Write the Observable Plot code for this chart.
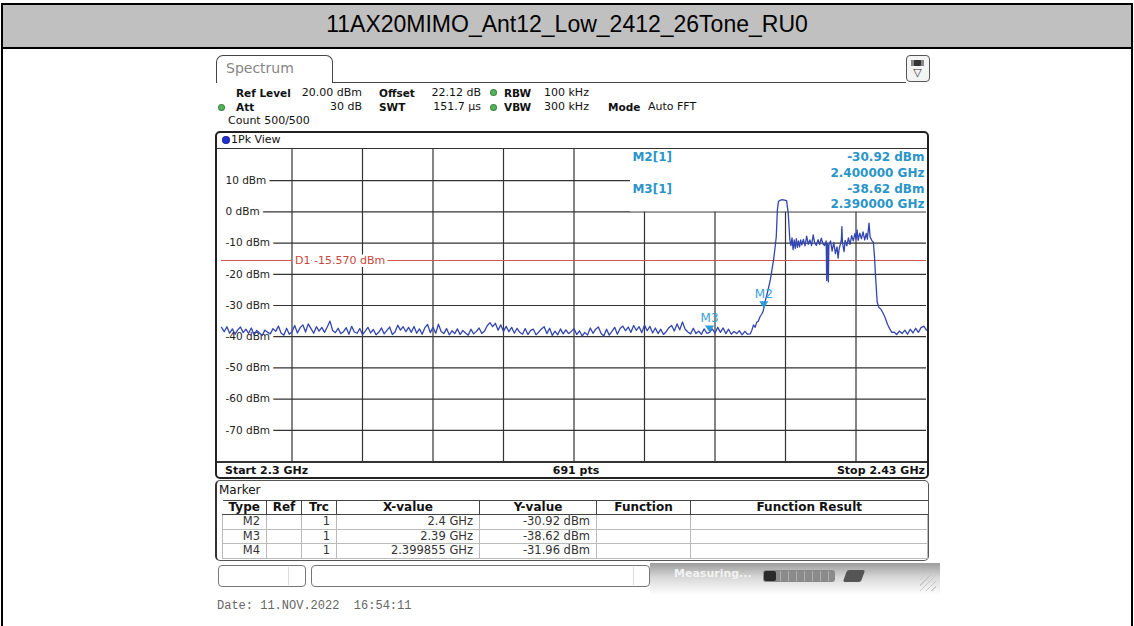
<!DOCTYPE html>
<html><head><meta charset="utf-8">
<script src="https://cdn.jsdelivr.net/npm/d3@7"></script>
<script src="https://cdn.jsdelivr.net/npm/@observablehq/plot@0.6"></script>
<style>
html,body{margin:0;padding:0;background:#fff;}
#page{position:relative;width:1134px;height:626px;overflow:hidden;font-family:"DejaVu Sans",sans-serif;color:#111;}
.box{position:absolute;box-sizing:border-box;}
.t{position:absolute;white-space:pre;height:16px;line-height:16px;font-size:11px;}
#mk{position:absolute;left:222px;top:500px;border-collapse:collapse;font-family:"DejaVu Sans",sans-serif;font-size:11.5px;color:#333;table-layout:fixed;}
#mk th{font-weight:bold;color:#111;height:13px;line-height:13px;padding:0 3px;border-left:1.5px solid #444;border-top:1.5px solid #444;border-bottom:1.5px solid #444;text-align:center;font-size:12px;}
#mk th:first-child{border-left:none;}
#mk td{height:13.5px;line-height:13.5px;padding:0 6px;border:1px solid #bbb;text-align:right;}
</style></head>
<body><div id="page"></div>
<script>
// ---------- data ----------
const titleText = "11AX20MIMO_Ant12_Low_2412_26Tone_RU0";
const startMHz = 2300, stopMHz = 2430, sweepPoints = 691;
const refLevelDbm = 20, bottomDbm = -80;
const gridFreqMHz = [2313, 2326, 2339, 2352, 2365, 2378, 2391, 2404, 2417];
const levelTicksDbm = [10, 0, -10, -20, -30, -40, -50, -60, -70];
const d1LineDbm = -15.57;

// noise floor left of the signal, 0.5 MHz sweep grid from 2300 MHz
const noiseLeftStartMHz = 2300, noiseStepMHz = 0.5;
const noiseLeftDbm = [
 -37.0,-38.4,-36.8,-38.9,-37.5,-39.2,-37.8,-36.9,-38.7,-37.6,
 -38.9,-37.2,-39.4,-38.0,-38.8,-39.6,-37.9,-38.6,-39.1,-37.4,
 -38.3,-36.6,-38.9,-39.5,-37.3,-39.2,-38.4,-36.4,-38.8,-37.1,
 -36.2,-38.5,-35.9,-37.4,-38.9,-36.8,-38.2,-37.0,-38.6,-36.9,
 -35.0,-38.0,-38.7,-37.3,-39.0,-38.4,-37.1,-39.2,-36.7,-38.5,
 -38.9,-37.4,-39.3,-38.2,-37.0,-38.8,-37.7,-39.4,-38.6,-37.2,
 -39.1,-38.0,-36.9,-39.3,-38.5,-36.3,-37.9,-36.8,-38.4,-37.0,
 -38.6,-36.7,-38.9,-37.5,-39.2,-37.1,-36.1,-38.7,-37.0,-38.9,
 -36.0,-38.3,-39.0,-37.4,-39.4,-38.1,-39.0,-37.5,-39.3,-38.0,
 -38.8,-39.5,-37.6,-39.1,-38.3,-37.2,-39.0,-38.2,-36.5,-35.5,
 -36.8,-35.7,-37.9,-36.2,-38.3,-36.7,-38.4,-37.0,-38.9,-37.3,
 -38.6,-39.2,-37.4,-39.3,-38.0,-37.6,-39.4,-38.5,-37.5,-36.8,
 -39.0,-37.3,-39.6,-38.2,-39.4,-37.5,-39.1,-37.8,-39.0,-38.3,
 -37.4,-39.3,-38.1,-39.8,-38.6,-39.5,-37.2,-38.9,-37.6,-36.9,
 -39.0,-39.8,-37.6,-39.5,-38.3,-37.0,-39.2,-37.4,-36.6,-38.1,
 -36.9,-38.6,-36.4,-38.0,-36.8,-38.7,-36.3,-38.1,-36.7,-38.8,
 -37.2,-39.0,-37.6,-39.3,-38.4,-37.1,-36.4,-38.2,-35.9,-37.8,
 -35.3,-37.6,-38.5,-39.1,-37.3,-39.0,-38.2,-39.2,-37.5,-38.9,
 -38.62,-37.5,-38.9,-37.0,-38.6,-37.2,-39.0,-37.6,-39.2,-38.3,
 -39.0,-38.1,-39.4,-38.3,-39.2
];
// signal region (rise, 26-tone RU peak, unallocated plateau, fall)
const bandFreqMHz = [
 2397.5,2397.8,2398.1,2398.4,2398.7,2399.0,2399.3,2399.6,2399.855,2400.0,
 2400.3,2400.6,2400.9,2401.2,2401.5,2401.8,2402.05,2402.3,2402.5,2402.7,
 2403.0,2403.4,2403.8,2404.2,2404.5,2404.8,
 2405.0,2405.2,2405.4,2405.6,2405.8,2406.0,2406.2,2406.4,2406.6,2406.8,
 2407.0,2407.3,2407.6,2407.9,2408.2,2408.5,2408.8,2409.1,2409.4,2409.7,
 2410.0,2410.3,2410.6,2410.9,2411.2,2411.5,2411.6,2411.75,2411.9,
 2412.0,2412.3,2412.6,2412.9,2413.2,2413.5,2413.7,2413.9,
 2414.1,2414.3,2414.4,2414.5,2414.8,2415.0,2415.3,2415.6,2415.9,
 2416.2,2416.5,2416.8,2417.0,2417.2,2417.4,2417.7,2418.0,2418.3,2418.6,2418.9,
 2419.1,2419.4,2419.6,2419.9,
 2420.2,2420.4,2420.6,2420.9,2421.2,2421.6,2422.0,2422.4,2422.8,2423.2,2423.6
];
const bandDbm = [
 -39.1,-37.9,-36.2,-37.0,-35.4,-35.0,-33.6,-32.8,-31.96,-30.92,
 -28.3,-26.4,-24.1,-21.8,-18.6,-15.4,-11.8,-7.9,0.6,3.3,
 3.7,3.9,3.8,3.6,-0.4,-9.0,
 -10.8,-8.3,-12.1,-9.0,-11.7,-8.6,-11.4,-9.3,-11.2,-9.0,
 -10.6,-8.8,-10.9,-7.8,-10.4,-9.0,-10.8,-7.4,-10.1,-10.7,
 -8.9,-10.5,-8.4,-10.2,-10.8,-9.3,-22.0,-10.2,-22.4,
 -10.6,-9.3,-12.6,-9.8,-13.4,-11.2,-14.8,-11.8,
 -10.5,-8.9,-4.7,-9.8,-12.7,-9.1,-10.9,-8.3,-10.4,
 -7.6,-9.3,-6.9,-8.7,-5.8,-9.1,-6.8,-8.6,-6.4,-9.0,-6.9,
 -8.7,-3.6,-8.0,-9.1,
 -9.8,-14.0,-20.5,-28.8,-30.6,-31.2,-32.5,-34.0,-36.0,-37.4,-38.6
];
// noise floor right of the signal, 0.5 MHz grid from 2424 MHz
const noiseRightStartMHz = 2424;
const noiseRightDbm = [-38.5,-39.3,-38.2,-39.0,-37.9,-39.2,-37.6,-38.8,-37.3,-38.6,-37.1,-36.6,-37.9];

const markerNames = ["M2", "M3", "M4"];
const markerTrace = [1, 1, 1];
const markerFreqMHz = [2400, 2390, 2399.855];
const markerDbm = [-30.92, -38.62, -31.96];
const markersOnScreen = ["M2", "M3"];
const infoPanelStartMHz = 2375.4;

const tableHeaders = ["Type", "Ref", "Trc", "X-value", "Y-value", "Function", "Function Result"];
const dateText = "Date: 11.NOV.2022  16:54:11";

// ---------- page chrome ----------
const page = document.getElementById("page");
function box(l, t, w, h, css) {
  const d = document.createElement("div");
  d.className = "box";
  Object.assign(d.style, {left: l + "px", top: t + "px", width: w + "px", height: h + "px"}, css || {});
  page.appendChild(d);
  return d;
}
function put(x, yc, text, o = {}) {
  const d = document.createElement("div");
  d.className = "t";
  d.textContent = text;
  d.style.top = (yc - 8) + "px";
  if (o.anchor === "end") d.style.right = (1134 - x) + "px";
  else if (o.anchor === "middle") { d.style.left = x + "px"; d.style.transform = "translateX(-50%)"; }
  else d.style.left = x + "px";
  if (o.bold) d.style.fontWeight = "bold";
  if (o.size) d.style.fontSize = o.size + "px";
  if (o.color) d.style.color = o.color;
  if (o.font) d.style.fontFamily = o.font;
  page.appendChild(d);
  return d;
}
function dot(cx, cy, r, color) {
  box(cx - r, cy - r, 2 * r, 2 * r, {borderRadius: "50%", background: color, border: "0.5px solid rgba(0,0,0,0.25)"});
}

// outer frame and title bar
box(1, 3, 1132, 700, {border: "2px solid #000"});
const tb = box(3, 5, 1128, 44, {background: "#c0c0c0", borderBottom: "2px solid #000"});
const tt = document.createElement("div");
Object.assign(tt.style, {position: "absolute", left: 0, right: 0, top: "-2px", height: "42px", lineHeight: "42px", textAlign: "center", fontFamily: "'Liberation Sans',Arial,sans-serif", fontSize: "23px", color: "#000"});
tt.textContent = titleText;
tb.appendChild(tt);

// Spectrum tab
box(216, 55, 117, 28, {border: "1.5px solid #444", borderBottom: "none", borderRadius: "7px 7px 0 0"});
put(226, 68, "Spectrum", {size: 14, color: "#868686"});
box(332, 81.5, 574, 1.5, {background: "#444"});
box(906, 55, 24, 27, {border: "1.5px solid #555", borderRadius: "4px", background: "#f4f4f4"});
box(911, 60, 13, 6, {background: "#333", borderRadius: "1px", boxShadow: "inset 3px 0 0 #888, inset -3px 0 0 #888"});
put(917.5, 73, "\u25BD", {size: 11, anchor: "middle", color: "#333"});

// settings header
put(236, 92.5, "Ref Level", {bold: true, size: 10.5});
put(362, 92.5, "20.00 dBm", {anchor: "end"});
put(379, 92.5, "Offset", {bold: true, size: 10.5});
put(481, 92.5, "22.12 dB", {anchor: "end"});
dot(493, 92.5, 3.5, "#52b35a");
put(504, 92.5, "RBW", {bold: true, size: 10.5});
put(544, 92.5, "100 kHz");
dot(221, 107, 3.5, "#52b35a");
put(236, 107, "Att", {bold: true, size: 10.5});
put(362, 107, "30 dB", {anchor: "end"});
put(379, 107, "SWT", {bold: true, size: 10.5});
put(481, 107, "151.7 \u00B5s", {anchor: "end"});
dot(493, 107, 3.5, "#52b35a");
put(504, 107, "VBW", {bold: true, size: 10.5});
put(544, 107, "300 kHz");
put(608, 107, "Mode", {bold: true, size: 10.5});
put(648, 107, "Auto FFT");
put(228, 121, "Count 500/500");

// diagram frame
box(215, 131, 714, 348, {border: "2px solid #222", borderRadius: "5px"});
dot(226, 140, 4, "#1f2fd0");
put(231, 140, "1Pk View");
box(217, 147.8, 710, 1.5, {background: "#333"});
box(217, 461, 710, 1.5, {background: "#333"});
put(225, 470.5, "Start 2.3 GHz", {bold: true});
put(576, 470.5, sweepPoints + " pts", {bold: true, anchor: "middle"});
put(925, 470.5, "Stop 2.43 GHz", {bold: true, anchor: "end"});

// marker table
box(215, 480, 714, 81, {border: "1.5px solid #555", borderLeft: "2.5px solid #333", borderRadius: "5px"});
put(219, 489.5, "Marker", {size: 12});
const colW = [44, 35, 35, 143, 117, 94, 237];
const tbl = document.createElement("table");
tbl.id = "mk";
const cg = document.createElement("colgroup");
colW.forEach(w => { const c = document.createElement("col"); c.style.width = w + "px"; cg.appendChild(c); });
tbl.appendChild(cg);
const hr = document.createElement("tr");
tableHeaders.forEach(h => { const th = document.createElement("th"); th.textContent = h; hr.appendChild(th); });
tbl.appendChild(hr);
const fmtGHz = f => parseFloat((f / 1000).toFixed(6)) + " GHz";
markerNames.forEach((n, i) => {
  const tr = document.createElement("tr");
  [n, "", String(markerTrace[i]), fmtGHz(markerFreqMHz[i]), markerDbm[i].toFixed(2) + " dBm", "", ""].forEach(v => {
    const td = document.createElement("td"); td.textContent = v; tr.appendChild(td);
  });
  tbl.appendChild(tr);
});
page.appendChild(tbl);

// status bar
box(218, 565, 88, 22, {border: "1px solid #777", borderRadius: "4px"});
box(288, 567, 1, 18, {background: "#ddd"});
box(311, 565, 339, 22, {border: "1px solid #777", borderRadius: "4px"});
box(633, 567, 1, 18, {background: "#ddd"});
box(650, 563, 290, 32, {background: "linear-gradient(#9c9c9c, #d8d8d8 45%, #ffffff)"});
put(674, 574, "Measuring...", {bold: true, color: "#f2f2f2", size: 11});
box(763, 570, 72, 12, {background: "#8a8a8a", borderRadius: "3px"});
box(764, 571, 12, 10, {background: "#2a2a2a", borderRadius: "2px"});
[780, 788, 796, 804, 812, 820, 828].forEach(x => box(x, 571, 1, 10, {background: "#b0b0b0"}));
box(845, 570, 18, 12, {background: "#555", transform: "skewX(-20deg)", borderRadius: "2px"});
box(920, 575, 16, 16, {background: "repeating-linear-gradient(135deg, transparent 0 3px, #c8c8c8 3px 4px)"});
put(217, 606, dateText, {font: "'Liberation Mono',monospace", size: 12, color: "#666"});

// ---------- spectrum plot ----------
const trace = [];
noiseLeftDbm.forEach((v, i) => trace.push({f: noiseLeftStartMHz + i * noiseStepMHz, v}));
bandFreqMHz.forEach((f, i) => trace.push({f, v: bandDbm[i]}));
noiseRightDbm.forEach((v, i) => trace.push({f: noiseRightStartMHz + i * noiseStepMHz, v}));

const markers = markerNames.map((n, i) => ({name: n, f: markerFreqMHz[i], v: markerDbm[i], trc: markerTrace[i]}))
  .filter(m => markersOnScreen.includes(m.name));
const downTriangle = {draw(ctx) { ctx.moveTo(0, 0); ctx.lineTo(-4.5, -7); ctx.lineTo(4.5, -7); ctx.closePath(); }};
const infoColor = "#2a95c9";
const infoMarks = [];
markers.forEach((m, k) => {
  const base = 8 + k * 31.5;
  const common = {lineAnchor: "middle", fill: infoColor, fontWeight: "bold", fontSize: 12};
  infoMarks.push(Plot.text([`${m.name}[${m.trc}]`], {x: infoPanelStartMHz, frameAnchor: "top", dx: 2, dy: base, textAnchor: "start", ...common}));
  infoMarks.push(Plot.text([`${m.v.toFixed(2)} dBm`], {frameAnchor: "top-right", dx: -2, dy: base, textAnchor: "end", ...common}));
  infoMarks.push(Plot.text([`${(m.f / 1000).toFixed(6)} GHz`], {frameAnchor: "top-right", dx: -2, dy: base + 15.3, textAnchor: "end", ...common}));
});

const chart = Plot.plot({
  width: 705, height: 312,
  marginTop: 0, marginRight: 0, marginBottom: 0, marginLeft: 0,
  x: {domain: [startMHz, stopMHz], axis: null},
  y: {domain: [bottomDbm, refLevelDbm], axis: null},
  style: {fontFamily: "DejaVu Sans", background: "transparent", overflow: "visible"},
  marks: [
    Plot.ruleX(gridFreqMHz, {stroke: "#333", strokeWidth: 1.2, strokeOpacity: 1}),
    Plot.ruleY(levelTicksDbm, {stroke: "#333", strokeWidth: 1.2, strokeOpacity: 1}),
    Plot.rect([{f1: infoPanelStartMHz, f2: stopMHz, l1: levelTicksDbm[1], l2: refLevelDbm}], {x1: "f1", x2: "f2", y1: "l1", y2: "l2", fill: "#fff", inset: 0}),
    Plot.text(levelTicksDbm, {x: startMHz, y: d => d, text: d => `${d} dBm`, textAnchor: "start", dx: 4, fill: "#222", stroke: "#fff", strokeWidth: 8, strokeLinejoin: "round", paintOrder: "stroke", fontSize: 10.5}),
    Plot.ruleX([startMHz], {stroke: "#fff", strokeWidth: 6}),
    Plot.ruleY([d1LineDbm], {stroke: "#d2574b", strokeWidth: 1.2}),
    Plot.text([d1LineDbm], {x: gridFreqMHz[0], y: d => d, text: d => `D1 ${d.toFixed(3)} dBm`, textAnchor: "start", dx: 3, fill: "#c8473c", stroke: "#fff", strokeWidth: 6, strokeLinejoin: "round", paintOrder: "stroke", fontSize: 11}),
    ...infoMarks,
    Plot.line(trace, {x: "f", y: "v", stroke: "#3346b0", strokeWidth: 1.3}),
    Plot.dot(markers, {x: "f", y: "v", symbol: downTriangle, fill: "#2b9ad6", stroke: "none", r: 4}),
    Plot.text(markers, {x: "f", y: "v", text: "name", dy: -14, lineAnchor: "middle", fill: "#3aa0d8", fontSize: 12})
  ]
});
chart.style.position = "absolute";
chart.style.left = "221px";
chart.style.top = "149.3px";
page.appendChild(chart);
</script>
</body></html>
